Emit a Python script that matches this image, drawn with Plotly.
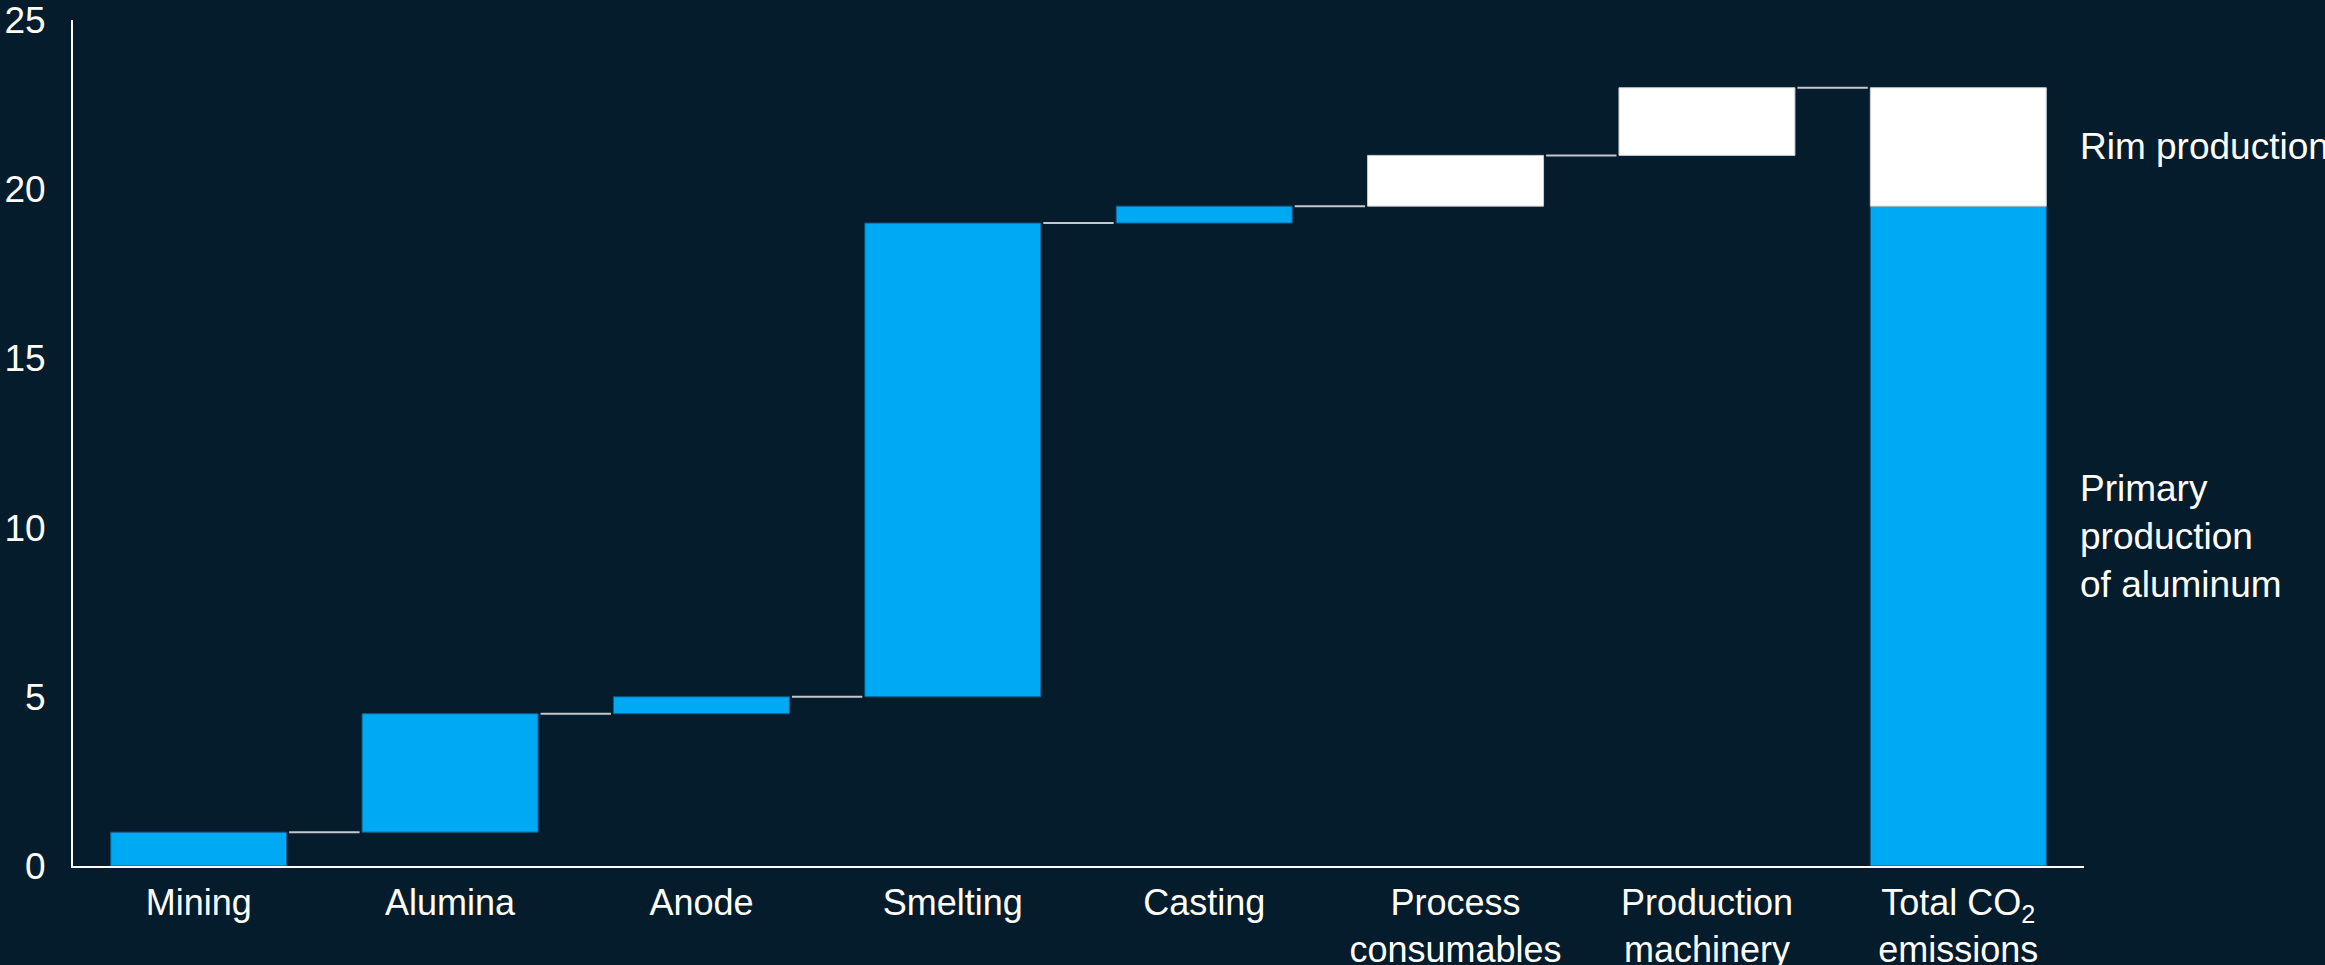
import plotly.graph_objects as go

# ---- data ----
categories = ["Mining", "Alumina", "Anode", "Smelting", "Casting",
              "Process<br>consumables", "Production<br>machinery",
              "Total CO<sub>2</sub><br>emissions"]
step_values = [1.0, 3.5, 0.5, 14.0, 0.5, 1.5, 2.0]
step_group = ["primary", "primary", "primary", "primary", "primary", "rim", "rim"]
total_primary = 19.5
total_rim = 3.5
y_ticks = [0, 5, 10, 15, 20, 25]
annot_rim = "Rim production"
annot_primary = "Primary<br>production<br>of aluminum"

BG = "#051c2c"
BLUE = "#00a9f4"
WHITE = "#ffffff"
FONT = "Liberation Sans, Arial, sans-serif"
group_color = {"primary": BLUE, "rim": WHITE}
group_line = {"primary": "#0a5f8e", "rim": "#c9cdd1"}

# cumulative bases
bases = []
level = 0.0
for v in step_values:
    bases.append(level)
    level += v
ends = [b + v for b, v in zip(bases, step_values)]

x_steps = list(range(len(step_values)))
x_total = len(step_values)
bar_w = 0.7

fig = go.Figure()
fig.add_trace(go.Bar(
    x=x_steps, y=step_values, base=bases, width=bar_w,
    marker=dict(color=[group_color[g] for g in step_group],
                line=dict(color=[group_line[g] for g in step_group], width=1)),
    hoverinfo="skip"))
fig.add_trace(go.Bar(
    x=[x_total], y=[total_primary], base=[0], width=bar_w,
    marker=dict(color=BLUE, line=dict(color=group_line["primary"], width=1)),
    hoverinfo="skip"))
fig.add_trace(go.Bar(
    x=[x_total], y=[total_rim], base=[total_primary], width=bar_w,
    marker=dict(color=WHITE, line=dict(color=group_line["rim"], width=1)),
    hoverinfo="skip"))

# connectors
cx, cy = [], []
for i, e in enumerate(ends):
    cx += [i + bar_w / 2 + 0.01, i + 1 - bar_w / 2 - 0.01, None]
    cy += [e, e, None]
fig.add_trace(go.Scatter(x=cx, y=cy, mode="lines",
                         line=dict(color="#c4c8cc", width=2),
                         hoverinfo="skip"))

fig.add_annotation(x=x_total + 0.5, y=total_primary + total_rim / 2,
                   xref="x", yref="y", text=annot_rim, showarrow=False,
                   xanchor="left", yanchor="middle", align="left", xshift=-6,
                   font=dict(family=FONT, size=37, color="white"))
fig.add_annotation(x=x_total + 0.5, y=total_primary / 2,
                   xref="x", yref="y", text=annot_primary, showarrow=False,
                   xanchor="left", yanchor="middle", align="left", xshift=-6,
                   font=dict(family=FONT, size=37, color="white"))

fig.update_layout(
    width=2325, height=965,
    margin=dict(l=73, r=241, t=20, b=99),
    paper_bgcolor=BG, plot_bgcolor=BG,
    barmode="overlay", showlegend=False,
    font=dict(family=FONT, color="white"),
)
fig.update_xaxes(
    range=[-0.5, len(categories) - 0.5], automargin=False,
    tickmode="array", tickvals=list(range(len(categories))), ticktext=categories,
    showgrid=False, zeroline=False, showline=True, linecolor="white", linewidth=2,
    ticks="", ticklabelstandoff=4, ticklabeloverflow="allow",
    tickfont=dict(family=FONT, size=36, color="white"),
)
fig.update_yaxes(
    range=[0, 25.001], automargin=False, tickmode="array", tickvals=y_ticks,
    showgrid=False, zeroline=False, showline=True, linecolor="white", linewidth=2,
    ticks="", ticklabelstandoff=18, ticklabeloverflow="allow",
    tickfont=dict(family=FONT, size=37, color="white"),
)

fig.write_html("out.html")
